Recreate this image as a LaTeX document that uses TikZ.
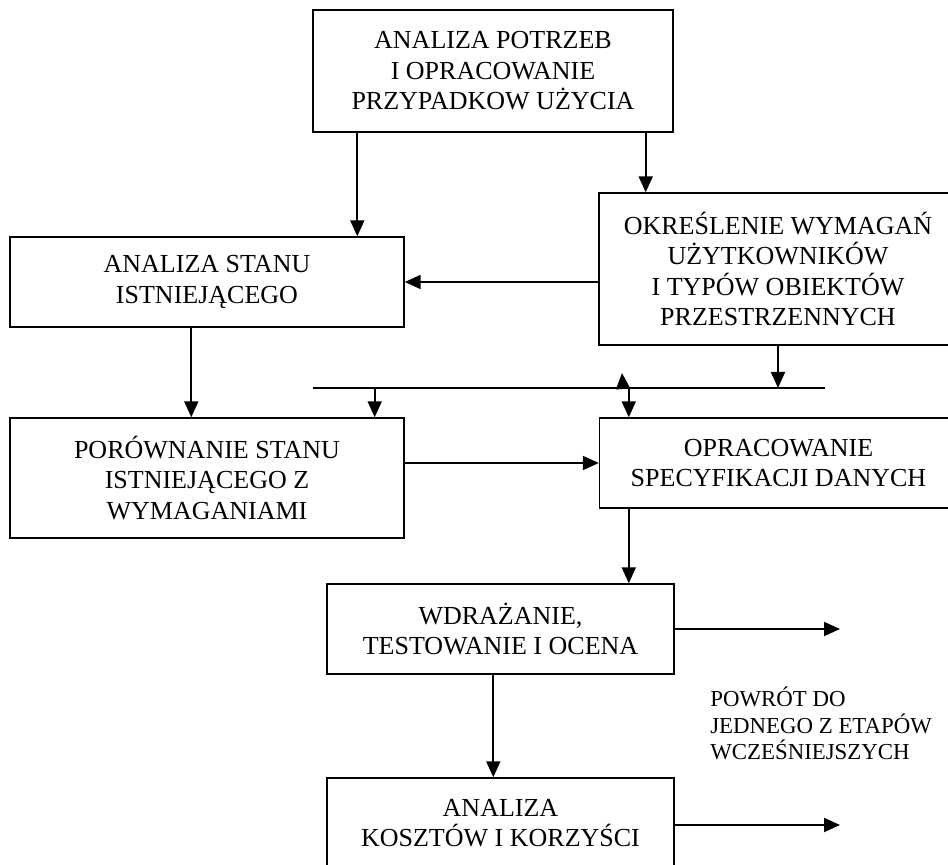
\documentclass[tikz,border=0pt]{standalone}
\usepackage{fontspec}
\setmainfont{Liberation Serif}
\usetikzlibrary{arrows.meta}

\tikzset{
  ramka/.style={draw, line width=0.8pt, align=center, inner sep=2pt,
    font=\fontsize{14.8}{17.4}\selectfont},
  strzalka/.style={line width=1.1pt, -{Triangle[length=0.32cm,width=0.28cm]}}
}

\begin{document}
\begin{tikzpicture}
\useasboundingbox (0,0) rectangle (18.96,-17.3);
\clip (0,0) rectangle (18.96,-17.3);
\node[ramka, minimum width=7.2cm, minimum height=2.44cm] (potrzeby) at (9.86,-1.42){ANALIZA POTRZEB\\I OPRACOWANIE\\PRZYPADKOW UŻYCIA};
\node[ramka, minimum width=7.88cm, minimum height=1.8cm] (stan) at (4.14,-5.64){ANALIZA STANU\\ISTNIEJĄCEGO};
\node[ramka, minimum width=7.16cm, minimum height=3.04cm] (wymagania) at (15.56,-5.38){OKREŚLENIE WYMAGAŃ\\UŻYTKOWNIKÓW\\I TYPÓW OBIEKTÓW\\PRZESTRZENNYCH};
\node[ramka, minimum width=7.88cm, minimum height=2.4cm] (porownanie) at (4.14,-9.56){PORÓWNANIE STANU\\ISTNIEJĄCEGO Z\\WYMAGANIAMI};
\node[ramka, minimum width=7.16cm, minimum height=1.8cm] (specyfikacja) at (15.57,-9.26){OPRACOWANIE\\SPECYFIKACJI DANYCH};
\node[ramka, minimum width=6.94cm, minimum height=1.8cm] (wdrazanie) at (10.01,-12.58){WDRAŻANIE,\\TESTOWANIE I OCENA};
\node[ramka, minimum width=6.94cm, minimum height=1.8cm] (koszty) at (10.01,-16.46){ANALIZA\\KOSZTÓW I KORZYŚCI};
\node[anchor=north west, align=left, inner sep=0pt, font=\fontsize{13}{15}\selectfont] (powrot) at (14.2,-13.74){POWRÓT DO\\JEDNEGO Z ETAPÓW\\WCZEŚNIEJSZYCH};

\coordinate (szynaL) at (6.26,-7.76);
\coordinate (szynaP) at (16.5,-7.76);
\coordinate (powrot1) at (16.8,-12.58);
\coordinate (powrot2) at (16.8,-16.5);
\coordinate (a1) at ([xshift=0.9cm]potrzeby.south west);
\coordinate (a2) at ([xshift=-0.56cm]potrzeby.south east);
\coordinate (a3) at ([xshift=3.64cm]stan.south west);
\coordinate (a4) at ([xshift=-0.6cm]porownanie.north east);
\coordinate (a5) at ([xshift=0.6cm]specyfikacja.north west);
\coordinate (a6) at ([xshift=3.34cm]wdrazanie.south west);
\coordinate (a7) at (12.46,-7.76);
\coordinate (a8) at ([xshift=0.6cm]specyfikacja.south west);

\draw[line width=0.8pt] (szynaL) -- (szynaP);
\foreach \from/\to in
{a1/stan.north,a2/wymagania.north,a3/porownanie.north,wymagania.south/szynaL,a8/wdrazanie.north,a6/koszty.north}
\draw[strzalka] (\from) -- (\from |- \to);
\foreach \to in {a4,a5}
\draw[strzalka] (\to |- szynaL) -- (\to);
\foreach \from/\to in
{wymagania.west/stan.east,porownanie.east/specyfikacja.west,wdrazanie.east/powrot1,koszty.east/powrot2}
\draw[strzalka] (\from |- \to) -- (\to);
\draw[strzalka] (a7) -- ++(-0.02,0.3);
\end{tikzpicture}
\end{document}
